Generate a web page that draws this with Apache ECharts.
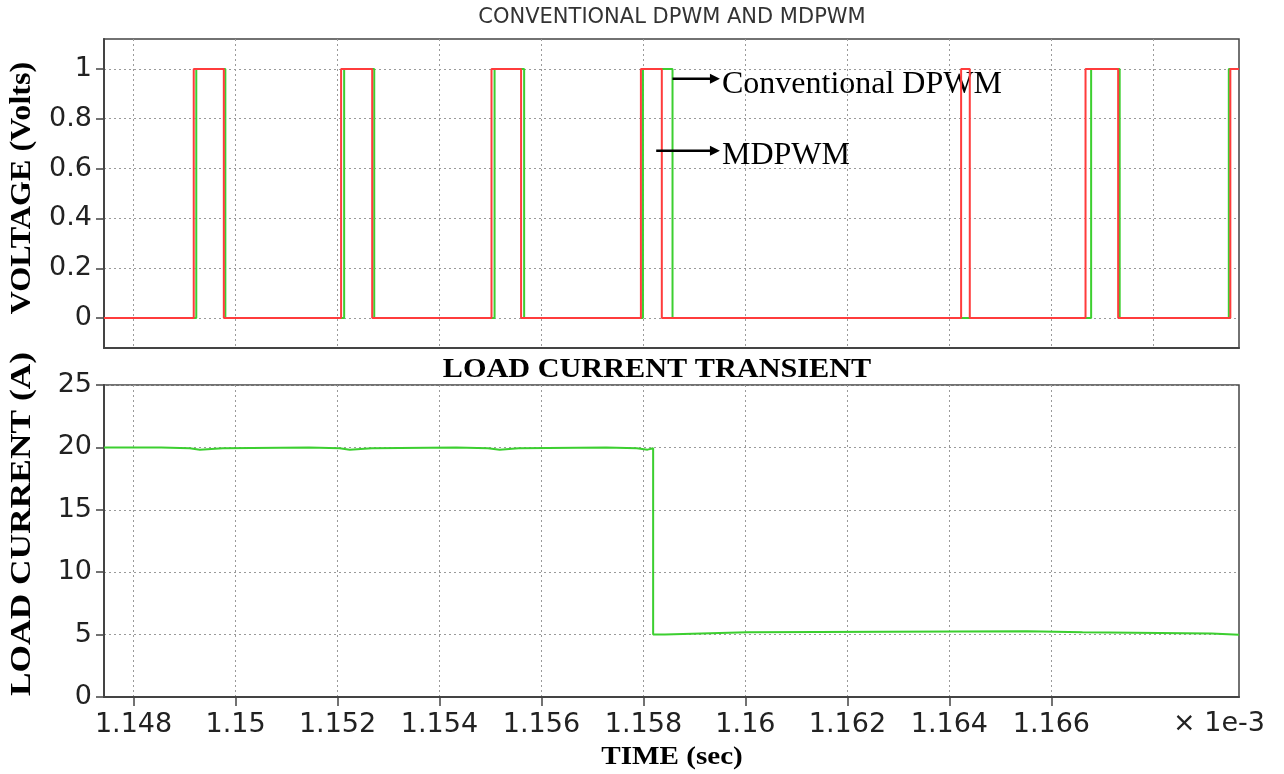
<!DOCTYPE html>
<html><head><meta charset="utf-8">
<script src="https://cdn.jsdelivr.net/npm/echarts@6/dist/echarts.min.js"></script>
<style>html,body{margin:0;padding:0;background:#fff}#c{width:1284px;height:774px}</style>
</head><body><div id="c"></div>
<script>
// ---- data (time in units of 1e-3 s) ----
const xMin = 1.14742, xMax = 1.16968;
const xGridValues = [1.148, 1.150, 1.152, 1.154, 1.156, 1.158, 1.160, 1.162, 1.164, 1.166, 1.168];
const xLabelValues = [1.148, 1.150, 1.152, 1.154, 1.156, 1.158, 1.160, 1.162, 1.164, 1.166];
const xExtraGrid = [1.168]; // grid line without tick/label (replaced by the ×1e-3 note)
const voltTicks = [0, 0.2, 0.4, 0.6, 0.8, 1];
const currentTicks = [0, 5, 10, 15, 20, 25];

// Conventional DPWM (green): each time starts a new level
const convTimes  = [1.14742, 1.14923, 1.14980, 1.15213, 1.15272, 1.15508, 1.15566, 1.15799, 1.15857, 1.16678, 1.16734, 1.16948, 1.16968];
const convLevels = [0, 1, 0, 1, 0, 1, 0, 1, 0, 1, 0, 1, 1];

// MDPWM (red)
const mdpwmTimes  = [1.14742, 1.14918, 1.14977, 1.15207, 1.15268, 1.15502, 1.15560, 1.15795, 1.15836, 1.16423, 1.16440, 1.16667, 1.16731, 1.16951, 1.16968];
const mdpwmLevels = [0, 1, 0, 1, 0, 1, 0, 1, 0, 1, 0, 1, 0, 1, 1];

// Load current (A)
const currentTimes  = [1.14742, 1.14854, 1.14910, 1.14930, 1.14975, 1.15144, 1.15204, 1.15224, 1.15267, 1.15433, 1.15495, 1.15518, 1.15555, 1.15727, 1.15787, 1.15808, 1.15819, 1.15842, 1.15913, 1.16003, 1.16552, 1.16661, 1.16914, 1.16968];
const currentValues = [20.0, 19.93, 19.82, 19.93, 20.0, 19.93, 19.82, 19.93, 20.0, 19.93, 19.82, 19.93, 20.0, 19.93, 19.82, 19.93, 5.0, 5.08, 5.18, 5.26, 5.18, 5.08, 4.98, 4.98];

const zip = (a, b) => a.map((t, i) => [t, b[i]]);

const GREEN = '#3ccf30', RED = '#ff3c3c';
const AXIS = '#444', GRIDC = '#9a9a9a';
const gridLine = { color: GRIDC, type: [2, 3], width: 1 };
const tickFont = { fontFamily: 'DejaVu Sans', fontSize: 27, color: '#222' };

const chart = echarts.init(document.getElementById('c'), null, { renderer: 'canvas' });

const xCommon = {
  type: 'value', min: xMin, max: xMax,
  axisLine: { show: true, onZero: false, lineStyle: { color: AXIS, width: 2 } },
  splitLine: { show: true, lineStyle: gridLine }
};

chart.setOption({
  animation: false,
  backgroundColor: '#fff',
  grid: [
    { left: 104, right: 45, top: 39, height: 309, show: true, borderColor: AXIS, borderWidth: 1.5, containLabel: false },
    { left: 104, right: 45, top: 385, height: 312, show: true, borderColor: AXIS, borderWidth: 1.5, containLabel: false }
  ],
  xAxis: [
    Object.assign({}, xCommon, {
      gridIndex: 0,
      axisTick: { show: false, customValues: xGridValues },
      axisLabel: { show: false, customValues: xLabelValues }
    }),
    Object.assign({}, xCommon, {
      gridIndex: 1,
      axisTick: { show: true, length: 9, customValues: xLabelValues, lineStyle: { color: AXIS, width: 1.5 } },
      axisLabel: Object.assign({ customValues: xLabelValues, margin: 14, formatter: v => String(+v.toFixed(3)) }, tickFont)
    })
  ],
  yAxis: [
    {
      type: 'value', gridIndex: 0, min: -0.12, max: 1.12,
      axisLine: { show: true, lineStyle: { color: AXIS, width: 2 } },
      axisTick: { show: true, length: 8, customValues: voltTicks, lineStyle: { color: AXIS, width: 1.5 } },
      axisLabel: Object.assign({ customValues: voltTicks, margin: 12, formatter: v => String(+v.toFixed(1)) }, tickFont),
      splitLine: { show: true, lineStyle: gridLine }
    },
    {
      type: 'value', gridIndex: 1, min: 0, max: 25, interval: 5,
      axisLine: { show: true, lineStyle: { color: AXIS, width: 2 } },
      axisTick: { show: true, length: 8, customValues: currentTicks, lineStyle: { color: AXIS, width: 1.5 } },
      axisLabel: Object.assign({ customValues: currentTicks, margin: 12 }, tickFont),
      splitLine: { show: true, lineStyle: gridLine }
    }
  ],
  series: [
    { name: 'Conventional DPWM', type: 'line', xAxisIndex: 0, yAxisIndex: 0, step: 'end', symbol: 'none',
      data: zip(convTimes, convLevels), lineStyle: { color: GREEN, width: 2 }, z: 3 },
    { name: 'MDPWM', type: 'line', xAxisIndex: 0, yAxisIndex: 0, step: 'end', symbol: 'none',
      data: zip(mdpwmTimes, mdpwmLevels), lineStyle: { color: RED, width: 2 }, z: 4 },
    { name: 'Load current', type: 'line', xAxisIndex: 1, yAxisIndex: 1, step: 'end', symbol: 'none',
      data: zip(currentTimes, currentValues), lineStyle: { color: GREEN, width: 2 }, z: 3,
      markLine: { silent: true, symbol: 'none', label: { show: false }, lineStyle: gridLine, z: 1,
        data: xExtraGrid.map(v => ({ xAxis: v })) } }
  ]
});

// annotations anchored to data coordinates
const p = (t, v) => chart.convertToPixel({ xAxisIndex: 0, yAxisIndex: 0 }, [t, v]);
const a1s = p(1.15857, 0.96), a1e = p(1.15950, 0.96);
const a2s = p(1.15825, 0.672), a2e = p(1.15950, 0.672);
function arrow(s, e) {
  return [
    { type: 'line', shape: { x1: s[0], y1: s[1], x2: e[0] - 8, y2: e[1] }, style: { stroke: '#000', lineWidth: 2.5 }, z: 10 },
    { type: 'polygon', shape: { points: [[e[0] - 10, e[1] - 5], [e[0], e[1]], [e[0] - 10, e[1] + 5]] }, style: { fill: '#000' }, z: 10 }
  ];
}

chart.setOption({
  graphic: [
    { type: 'text', x: 672, y: 18, style: { text: 'CONVENTIONAL DPWM AND MDPWM', font: '21px "DejaVu Sans"', fill: '#333', textAlign: 'center', textVerticalAlign: 'middle' } },
    { type: 'text', x: 657, y: 370, scaleX: 1.12, style: { text: 'LOAD CURRENT TRANSIENT', font: 'bold 27px "Liberation Serif"', fill: '#000', textAlign: 'center', textVerticalAlign: 'middle' } },
    { type: 'text', x: 672, y: 757, scaleX: 1.12, style: { text: 'TIME (sec)', font: 'bold 26px "Liberation Serif"', fill: '#000', textAlign: 'center', textVerticalAlign: 'middle' } },
    { type: 'text', x: 22, y: 188, rotation: Math.PI / 2, scaleX: 1.07, style: { text: 'VOLTAGE (Volts)', font: 'bold 30px "Liberation Serif"', fill: '#000', textAlign: 'center', textVerticalAlign: 'middle' } },
    { type: 'text', x: 22, y: 524, rotation: Math.PI / 2, scaleX: 1.18, style: { text: 'LOAD CURRENT (A)', font: 'bold 30px "Liberation Serif"', fill: '#000', textAlign: 'center', textVerticalAlign: 'middle' } },
    { type: 'text', x: 1173, y: 724, style: { text: '× 1e-3', font: '27px "DejaVu Sans"', fill: '#222', textAlign: 'left', textVerticalAlign: 'middle' } },
    { type: 'text', x: a1e[0] + 2, y: a1e[1] + 6, style: { text: 'Conventional DPWM', font: '32px "Liberation Serif"', fill: '#000', textAlign: 'left', textVerticalAlign: 'middle' } },
    { type: 'text', x: a2e[0] + 2, y: a2e[1] + 5, style: { text: 'MDPWM', font: '32px "Liberation Serif"', fill: '#000', textAlign: 'left', textVerticalAlign: 'middle' } }
  ].concat(arrow(a1s, a1e), arrow(a2s, a2e))
});
</script>
</body></html>
